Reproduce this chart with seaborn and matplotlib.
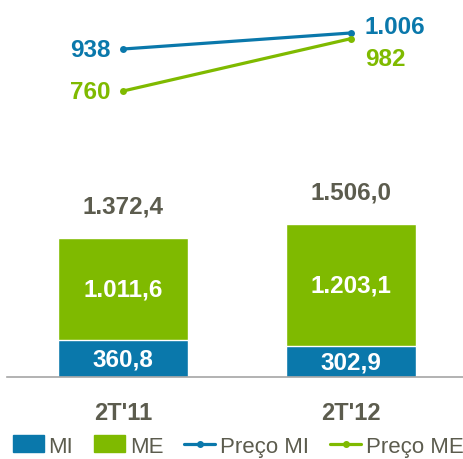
import matplotlib
matplotlib.use("Agg")
import matplotlib.pyplot as plt
import seaborn as sns
from matplotlib.patches import Patch
from matplotlib.lines import Line2D

# data
quarters = ["2T'11", "2T'12"]
mi = [360.8, 302.9]
me = [1011.6, 1203.1]
preco_mi = [938, 1006]
preco_me = [760, 982]
totals = [a + b for a, b in zip(mi, me)]

fmt = lambda v, d=1: f"{v:,.{d}f}".replace(",", "X").replace(".", ",").replace("X", ".")

blue = '#0a78ab'
green = '#7fba00'
gray = '#5c5c4e'
fs = 17.5

sns.set_style("white")
plt.rcParams['font.family'] = ['Liberation Sans', 'DejaVu Sans']

fig = plt.figure(figsize=(4.64, 4.60), dpi=100)
ax = fig.add_axes([7 / 464, 82 / 460, 457 / 464, 378 / 460])

# stacked bars: total in green, MI on top of it in blue
sns.barplot(x=quarters, y=totals, color=green, width=0.57, saturation=1, ax=ax)
sns.barplot(x=quarters, y=mi, color=blue, width=0.57, saturation=1, ax=ax)
ax.set_xlim(-0.509, 1.496)
ax.set_ylim(0, 3724)
ax.set_yticks([])
ax.set_ylabel('')
for s in ['top', 'left', 'right']:
    ax.spines[s].set_visible(False)
ax.spines['bottom'].set_color('#a6a6a6')
ax.spines['bottom'].set_linewidth(1.2)
ax.tick_params(axis='x', length=0, pad=17)
for lbl in ax.get_xticklabels():
    lbl.set_fontsize(17)
    lbl.set_fontweight('bold')
    lbl.set_color(gray)

for i in range(len(quarters)):
    ax.text(i, mi[i] / 2, fmt(mi[i]), ha='center', va='center', color='white',
            fontsize=fs, fontweight='bold')
    ax.text(i, mi[i] + me[i] / 2, fmt(me[i]), ha='center', va='center', color='white',
            fontsize=fs, fontweight='bold')
    ax.annotate(fmt(totals[i]), (i, totals[i]), xytext=(0, 23), textcoords='offset points',
                ha='center', va='center', color=gray, fontsize=fs, fontweight='bold')

# price lines on a second axis
ax2 = ax.twinx()
xs = list(range(len(quarters)))
sns.lineplot(x=xs, y=preco_mi, color=blue, lw=2.3, marker='o', markersize=5,
             markeredgewidth=0, ax=ax2)
sns.lineplot(x=xs, y=preco_me, color=green, lw=2.3, marker='o', markersize=5,
             markeredgewidth=0, ax=ax2)
ax2.set_ylim(-452, 1150)
ax2.axis('off')

ax2.annotate(fmt(preco_mi[0], 0), (0, preco_mi[0]), xytext=(-9, 0), textcoords='offset points',
             ha='right', va='center', color=blue, fontsize=fs, fontweight='bold')
ax2.annotate(fmt(preco_me[0], 0), (0, preco_me[0]), xytext=(-9, 0), textcoords='offset points',
             ha='right', va='center', color=green, fontsize=fs, fontweight='bold')
ax2.annotate(fmt(preco_mi[1], 0), (1, preco_mi[1]), xytext=(10, 5), textcoords='offset points',
             ha='left', va='center', color=blue, fontsize=fs, fontweight='bold')
ax2.annotate(fmt(preco_me[1], 0), (1, preco_me[1]), xytext=(10, -14), textcoords='offset points',
             ha='left', va='center', color=green, fontsize=fs, fontweight='bold')

handles = [
    Patch(color=blue, label='MI'),
    Patch(color=green, label='ME'),
    Line2D([], [], color=blue, lw=2.3, marker='o', markersize=4, label='Preço MI'),
    Line2D([], [], color=green, lw=2.3, marker='o', markersize=4, label='Preço ME'),
]
leg = fig.legend(handles=handles, loc='center', bbox_to_anchor=(0.513, 13 / 460), ncol=4,
                 frameon=False, fontsize=16, handlelength=1.4, handleheight=0.8,
                 handletextpad=0.2, columnspacing=0.95, borderaxespad=0, borderpad=0)
for t in leg.get_texts():
    t.set_color(gray)

fig.savefig('out.png', dpi=100)
